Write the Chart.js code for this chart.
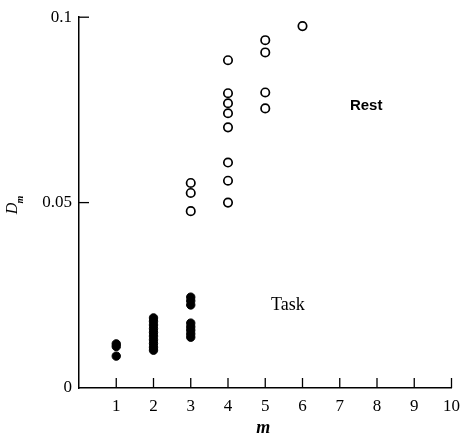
<!DOCTYPE html>
<html><head><meta charset="utf-8">
<script src="https://cdn.jsdelivr.net/npm/chart.js@4/dist/chart.umd.min.js"></script>
<style>html,body{margin:0;padding:0;background:#fff}#wrap{width:468px;height:439px;position:relative}</style>
</head><body><div id="wrap"><canvas id="c"></canvas></div>
<script>
// Rest condition (open circles)
const restM = [3,3,3, 4,4,4,4,4,4,4,4, 5,5,5,5, 6];
const restD = [0.0553,0.0526,0.0477, 0.0884,0.0795,0.0768,0.0741,0.0703,0.0608,0.0559,0.0500, 0.0938,0.0905,0.0797,0.0754, 0.0976];
// Task condition (filled circles)
const taskM = [1,1,1, 2,2,2,2,2,2,2,2,2,2, 3,3,3,3,3,3,3,3];
const taskD = [0.0119,0.0112,0.0086, 0.0189,0.0180,0.0170,0.0160,0.0150,0.0140,0.0130,0.0120,0.0110,0.0102, 0.0245,0.0235,0.0224,0.0175,0.0165,0.0156,0.0146,0.0137];
const xTicks = [0,1,2,3,4,5,6,7,8,9,10];
const xTickLabels = ['','1','2','3','4','5','6','7','8','9','10'];
const yTicks = [0,0.05,0.1];
const yTickLabels = ['0','0.05','0.1'];
const textLabels = [{text:'Rest', m:7.71, d:0.076, rest:true}, {text:'Task', m:5.61, d:0.0224, rest:false}];

const SERIF = '"Liberation Serif", "DejaVu Serif", serif';
const SANS = '"Liberation Sans", Arial, sans-serif';

const decor = {
  id:'decor',
  afterDraw(chart){
    const ctx = chart.ctx, xs = chart.scales.x, ys = chart.scales.y, ca = chart.chartArea;
    ctx.save();
    ctx.strokeStyle = '#000'; ctx.lineWidth = 1.3;
    // inward tick marks
    xTicks.forEach(v => { if (v === 0) return; const px = xs.getPixelForValue(v);
      ctx.beginPath(); ctx.moveTo(px, ca.bottom); ctx.lineTo(px, ca.bottom - 10); ctx.stroke(); });
    yTicks.forEach(v => { if (v === 0) return; const py = ys.getPixelForValue(v);
      ctx.beginPath(); ctx.moveTo(ca.left, py); ctx.lineTo(ca.left + 10, py); ctx.stroke(); });
    // in-plot labels
    ctx.fillStyle = '#000'; ctx.textAlign = 'center'; ctx.textBaseline = 'middle';
    textLabels.forEach(l => {
      ctx.font = l.rest ? ('bold 15px ' + SANS) : ('18px ' + SERIF);
      ctx.fillText(l.text, xs.getPixelForValue(l.m), ys.getPixelForValue(l.d));
    });
    // x title
    ctx.font = 'italic bold 18px ' + SERIF;
    ctx.fillText('m', (ca.left + ca.right)/2 - 2, ca.bottom + 40);
    // y title D_m
    ctx.translate(13, (ca.top + ca.bottom)/2 + 2);
    ctx.rotate(-Math.PI/2);
    ctx.font = 'italic 16px ' + SERIF;
    ctx.textAlign = 'right';
    ctx.fillText('D', 2, 0);
    ctx.font = 'italic bold 10px ' + SERIF;
    ctx.textAlign = 'left';
    ctx.fillText('m', 1, 7);
    ctx.restore();
  }
};

new Chart(document.getElementById('c'), {
  type: 'scatter',
  data: {
    datasets: [
      { label:'Rest', data: restM.map((m,i)=>({x:m, y:restD[i]})), pointRadius:4.2, pointHoverRadius:4.2,
        pointBackgroundColor:'#fff', pointBorderColor:'#000', pointBorderWidth:1.7, clip:false },
      { label:'Task', data: taskM.map((m,i)=>({x:m, y:taskD[i]})), pointRadius:4.2, pointHoverRadius:4.2,
        pointBackgroundColor:'#000', pointBorderColor:'#000', pointBorderWidth:1, clip:false }
    ]
  },
  options: {
    responsive:true, maintainAspectRatio:false, animation:false,
    layout:{ padding:{ top:17, right:13, left:0, bottom:0 } },
    plugins:{ legend:{display:false}, tooltip:{enabled:false} },
    scales:{
      x:{ type:'linear', min:0, max:10,
        afterBuildTicks: s => { s.ticks = xTicks.map(v=>({value:v})); },
        afterFit: s => { s.height = 51; },
        grid:{ display:false, drawTicks:false }, border:{ display:true, color:'#000', width:1.5 },
        ticks:{ color:'#000', padding:8, font:{ family:SERIF, size:17 }, maxRotation:0, autoSkip:false,
          callback:(v,i)=>xTickLabels[i] } },
      y:{ type:'linear', min:0, max:0.1,
        afterBuildTicks: s => { s.ticks = yTicks.map(v=>({value:v})); },
        afterFit: s => { s.width = 79; },
        grid:{ display:false, drawTicks:false }, border:{ display:true, color:'#000', width:1.5 },
        ticks:{ color:'#000', padding:7, font:{ family:SERIF, size:17 }, autoSkip:false,
          callback:(v,i)=>yTickLabels[i] } }
    }
  },
  plugins:[decor]
});
</script></body></html>
